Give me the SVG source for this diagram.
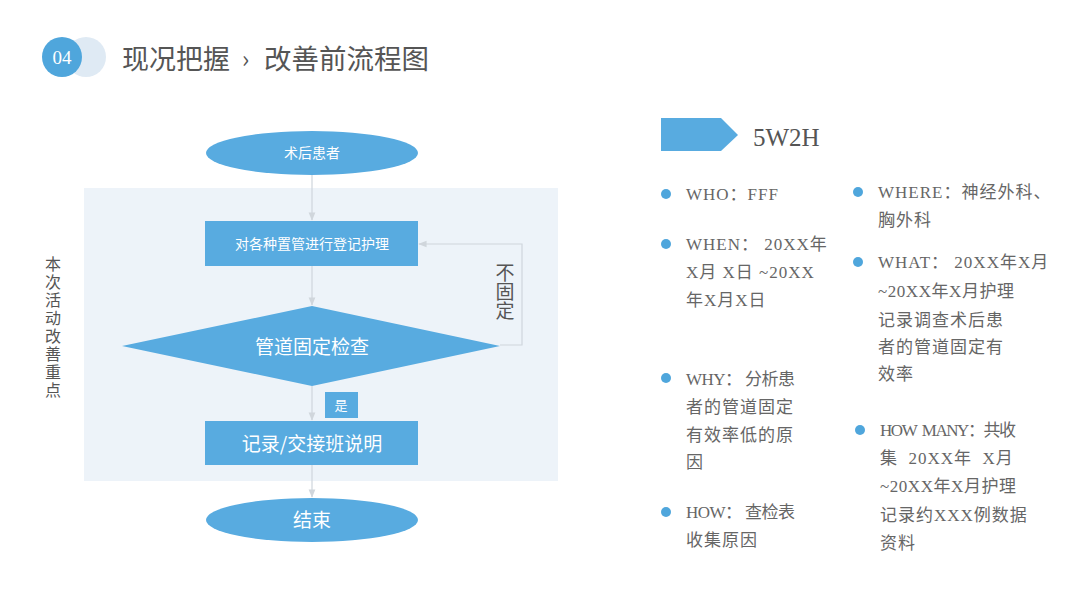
<svg xmlns="http://www.w3.org/2000/svg" width="1080" height="608" viewBox="0 0 1080 608">
<defs>
<style>
.shape{fill:#58abe0;}
.wt{fill:#ffffff;font-family:"Noto Sans CJK SC","Liberation Sans",sans-serif;text-anchor:middle;}
.conn{stroke:#cfd6dc;stroke-width:1.2;fill:none;}
.dark{fill:#555555;font-family:"Noto Sans CJK SC","Liberation Sans",sans-serif;}
.vert{writing-mode:vertical-rl;}
.bt{fill:#666666;font-family:"Liberation Serif","Noto Sans CJK SC",serif;font-size:17px;letter-spacing:1px;}
.dot{fill:#4fa6dc;}
</style>
<marker id="arr" viewBox="0 0 10 10" refX="9" refY="5" markerWidth="7" markerHeight="7" orient="auto-start-reverse">
<path d="M0,1 L10,5 L0,9 z" fill="#d0d6dc"/>
</marker>
</defs>
<rect width="1080" height="608" fill="#ffffff"/>

<g id="header">
<circle cx="86" cy="57" r="20" fill="#dfeaf4"/>
<circle cx="62" cy="57" r="20" fill="#4fa6dc"/>
<text x="62" y="64" fill="#ffffff" font-family="Liberation Serif,serif" font-size="19" text-anchor="middle">04</text>
<text x="122" y="69" class="dark" font-size="27">现况把握</text>
<text x="242" y="68" class="dark" font-size="24">›</text>
<text x="264" y="69" class="dark" font-size="27.5">改善前流程图</text>
</g>

<g id="panel">
<rect x="84" y="188" width="474" height="293" fill="#edf3f9"/>
</g>

<g id="connectors">
<line class="conn" x1="312" y1="175" x2="312" y2="220" marker-end="url(#arr)"/>
<line class="conn" x1="312" y1="266" x2="312" y2="305" marker-end="url(#arr)"/>
<line class="conn" x1="312" y1="386" x2="312" y2="420" marker-end="url(#arr)"/>
<line class="conn" x1="312" y1="465" x2="312" y2="497" marker-end="url(#arr)"/>
<polyline class="conn" points="500,345 522,345 522,244 419,244" marker-end="url(#arr)"/>
</g>

<g id="node-start">
<ellipse class="shape" cx="312" cy="153" rx="106" ry="22"/>
<text class="wt" x="312" y="158" font-size="14">术后患者</text>
</g>

<g id="node-register">
<rect class="shape" x="205" y="221" width="213" height="45"/>
<text class="wt" x="312" y="249" font-size="14">对各种置管进行登记护理</text>
</g>

<g id="node-check">
<polygon class="shape" points="122,346 312,306 500,346 312,386"/>
<text class="wt" x="312" y="354" font-size="19">管道固定检查</text>
</g>

<g id="label-yes">
<rect class="shape" x="325" y="392" width="33" height="26"/>
<text class="wt" x="341" y="410" font-size="13">是</text>
</g>

<g id="node-record">
<rect class="shape" x="205" y="421" width="213" height="44"/>
<text class="wt" x="312" y="451" font-size="19">记录/交接班说明</text>
</g>

<g id="node-end">
<ellipse class="shape" cx="312" cy="520" rx="106" ry="22"/>
<text class="wt" x="312" y="527" font-size="19">结束</text>
</g>

<g id="label-notfixed">
<text class="dark vert" x="505" y="263" font-size="19">不固定</text>
</g>

<g id="label-focus">
<text class="dark vert" x="53" y="256" font-size="16" letter-spacing="2">本次活动改善重点</text>
</g>

<g id="title-5w2h">
<polygon points="661,118 721,118 738,135 721,151 661,151" fill="#58abe0"/>
<text x="753" y="146" fill="#555555" font-family="Liberation Serif,serif" font-size="25">5W2H</text>
</g>

<g id="item-who">
<circle class="dot" cx="666" cy="194" r="5"/>
<text class="bt" x="686" y="200">WHO：FFF</text>
</g>
<g id="item-when">
<circle class="dot" cx="666" cy="244" r="5"/>
<text class="bt" x="686" y="250">WHEN： 20XX年</text>
<text class="bt" x="686" y="278">X月 X日 ~20XX</text>
<text class="bt" x="686" y="306">年X月X日</text>
</g>
<g id="item-why">
<circle class="dot" cx="666" cy="378" r="5"/>
<text class="bt" x="686" y="385" textLength="110">WHY： 分析患</text>
<text class="bt" x="686" y="413">者的管道固定</text>
<text class="bt" x="686" y="441">有效率低的原</text>
<text class="bt" x="686" y="468">因</text>
</g>
<g id="item-how">
<circle class="dot" cx="666" cy="512" r="5"/>
<text class="bt" x="686" y="518" textLength="110">HOW： 查检表</text>
<text class="bt" x="686" y="546">收集原因</text>
</g>
<g id="item-where">
<circle class="dot" cx="858" cy="192" r="5"/>
<text class="bt" x="878" y="198">WHERE：神经外科、</text>
<text class="bt" x="878" y="226">胸外科</text>
</g>
<g id="item-what">
<circle class="dot" cx="858" cy="262" r="5"/>
<text class="bt" x="878" y="268">WHAT： 20XX年X月</text>
<text class="bt" x="878" y="297" textLength="137">~20XX年X月护理</text>
<text class="bt" x="878" y="326">记录调查术后患</text>
<text class="bt" x="878" y="353">者的管道固定有</text>
<text class="bt" x="878" y="380">效率</text>
</g>
<g id="item-howmany">
<circle class="dot" cx="860" cy="430" r="5"/>
<text class="bt" x="880" y="436" textLength="137">HOW&#160;&#160;MANY：共收</text>
<text class="bt" x="880" y="464">集&#160;&#160;20XX年&#160;&#160;X月</text>
<text class="bt" x="880" y="492" textLength="137">~20XX年X月护理</text>
<text class="bt" x="880" y="521">记录约XXX例数据</text>
<text class="bt" x="880" y="549">资料</text>
</g>
</svg>
